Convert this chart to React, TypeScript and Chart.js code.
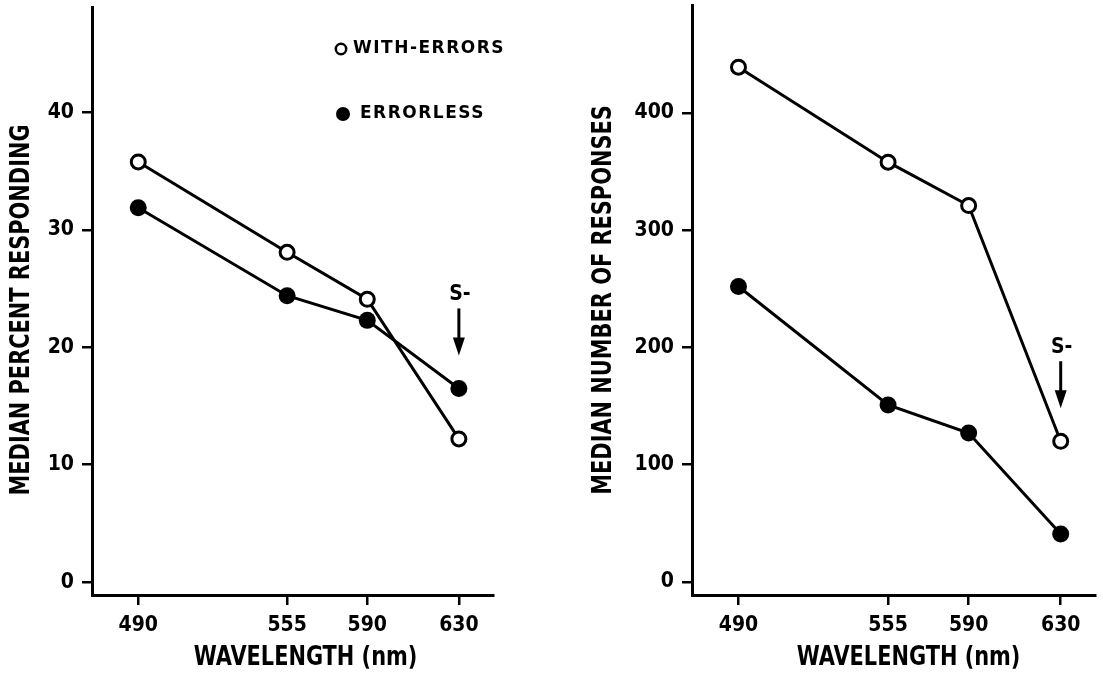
import React, { useEffect, useRef } from 'react';
import { Chart, registerables } from 'chart.js';

Chart.register(...registerables);

// ---------------- data ----------------
const WAVELENGTHS = [490, 555, 590, 630];
const X_TICKS = [490, 555, 590, 630];

const PCT_WITH_ERRORS = [35.8, 28.1, 24.1, 12.2];
const PCT_ERRORLESS = [31.9, 24.4, 22.3, 16.5];
const PCT_TICKS = [0, 10, 20, 30, 40];

const RESP_WITH_ERRORS = [439, 358, 321, 120];
const RESP_ERRORLESS = [252, 151, 127, 41];
const RESP_TICKS = [0, 100, 200, 300, 400];

const SERIES_NAMES = ['WITH-ERRORS', 'ERRORLESS'];
const Y_TITLES = ['MEDIAN PERCENT RESPONDING', 'MEDIAN NUMBER OF RESPONSES'];
const X_TITLE = 'WAVELENGTH (nm)';
const S_MINUS = 'S-';

// ---------------- styles ----------------
const COND = "'DejaVu Sans Condensed', 'DejaVu Sans', sans-serif";
const BOLD = "'DejaVu Sans', sans-serif";

function condensedText(ctx: any, text: string, x: number, y: number, sx: number) {
  ctx.save();
  ctx.translate(x, y);
  ctx.scale(sx, 1);
  ctx.fillText(text, 0, 0);
  ctx.restore();
}

const annotPlugin = {
  id: 'annot',
  afterDraw(chart: any, _args: any, opts: any) {
    const { ctx, chartArea, scales } = chart;
    const xs = scales.x;
    const ys = scales.y;
    ctx.save();
    ctx.fillStyle = '#000';
    ctx.strokeStyle = '#000';

    // y title
    ctx.save();
    ctx.font = `bold 27px ${COND}`;
    ctx.textAlign = 'center';
    ctx.textBaseline = 'middle';
    ctx.translate(opts.yTitleX, opts.yTitleY);
    ctx.rotate(-Math.PI / 2);
    condensedText(ctx, opts.yTitle, 0, 0, 0.86);
    ctx.restore();

    // x title
    ctx.font = `bold 27px ${COND}`;
    ctx.textAlign = 'center';
    ctx.textBaseline = 'alphabetic';
    const xMid = (xs.getPixelForValue(X_TICKS[0]) + xs.getPixelForValue(X_TICKS[X_TICKS.length - 1])) / 2;
    condensedText(ctx, X_TITLE, xMid + opts.xTitleShift, 665, 0.86);

    // S- arrow above last wavelength
    const last = WAVELENGTHS.length - 1;
    const ax = xs.getPixelForValue(WAVELENGTHS[last]);
    const topY = Math.min(ys.getPixelForValue(opts.a[last]), ys.getPixelForValue(opts.b[last]));
    const tip = topY - 33;
    ctx.lineWidth = 3;
    ctx.beginPath();
    ctx.moveTo(ax, tip - 47);
    ctx.lineTo(ax, tip - 14);
    ctx.stroke();
    ctx.beginPath();
    ctx.moveTo(ax - 6, tip - 18);
    ctx.lineTo(ax + 6, tip - 18);
    ctx.lineTo(ax, tip);
    ctx.closePath();
    ctx.fill();
    ctx.font = `bold 21px ${COND}`;
    ctx.textAlign = 'center';
    ctx.textBaseline = 'alphabetic';
    ctx.fillText(S_MINUS, ax + 1, tip - 55);

    // legend
    if (opts.legend) {
      const lx = chartArea.left;
      ctx.lineWidth = 2.5;
      ctx.fillStyle = '#fff';
      ctx.beginPath();
      ctx.arc(lx + 249, 49, 5.2, 0, Math.PI * 2);
      ctx.fill();
      ctx.stroke();
      ctx.fillStyle = '#000';
      ctx.beginPath();
      ctx.arc(lx + 251, 114, 7, 0, Math.PI * 2);
      ctx.fill();
      ctx.font = `bold 17px ${BOLD}`;
      (ctx as any).letterSpacing = '1.5px';
      ctx.textAlign = 'left';
      ctx.textBaseline = 'middle';
      ctx.fillText(SERIES_NAMES[0], lx + 261, 49);
      ctx.fillText(SERIES_NAMES[1], lx + 268, 114);
      (ctx as any).letterSpacing = '0px';
    }
    ctx.restore();
  },
};

function makeConfig(p: any) {
  return {
    type: 'line',
    data: {
      datasets: [
        {
          label: SERIES_NAMES[1],
          data: WAVELENGTHS.map((x, i) => ({ x, y: p.b[i] })),
          borderColor: '#000',
          borderWidth: 3,
          pointRadius: 8.5,
          pointBackgroundColor: '#000',
          pointBorderColor: '#000',
          pointBorderWidth: 0,
          tension: 0,
        },
        {
          label: SERIES_NAMES[0],
          data: WAVELENGTHS.map((x, i) => ({ x, y: p.a[i] })),
          borderColor: '#000',
          borderWidth: 3,
          pointRadius: 7,
          pointBackgroundColor: '#fff',
          pointBorderColor: '#000',
          pointBorderWidth: 3,
          tension: 0,
        },
      ],
    },
    options: {
      responsive: false,
      animation: false,
      devicePixelRatio: 1,
      layout: { autoPadding: false, padding: { left: 0, right: p.padRight, top: p.padTop, bottom: 0 } },
      plugins: {
        legend: { display: false },
        tooltip: { enabled: false },
        annot: {
          yTitle: p.yTitle,
          yTitleX: p.yTitleX,
          yTitleY: p.yTitleY,
          xTitleShift: p.xTitleShift,
          legend: p.legend,
          a: p.a,
          b: p.b,
        },
      },
      scales: {
        x: {
          type: 'linear',
          min: 469.8,
          max: 644.9,
          afterFit: (s: any) => {
            s.height = 83;
            s.paddingLeft = 0;
            s.paddingRight = 0;
            s.paddingTop = 0;
            s.paddingBottom = 0;
          },
          afterBuildTicks: (s: any) => { s.ticks = X_TICKS.map((v) => ({ value: v })); },
          border: { display: true, width: 3, color: '#000' },
          grid: { drawOnChartArea: false, drawTicks: true, tickLength: 10, lineWidth: 2.5, color: '#000' },
          ticks: { color: '#000', padding: 8, maxRotation: 0, font: { family: COND, size: 21, weight: 'bold' } },
        },
        y: {
          type: 'linear',
          min: p.yMin,
          max: p.yMax,
          afterFit: (s: any) => {
            s.width = p.yAxisWidth;
            s.paddingTop = 0;
            s.paddingBottom = 0;
            s.paddingLeft = 0;
            s.paddingRight = 0;
          },
          afterBuildTicks: (s: any) => { s.ticks = p.yTicks.map((v: number) => ({ value: v })); },
          border: { display: true, width: 3, color: '#000' },
          grid: { drawOnChartArea: false, drawTicks: true, tickLength: 10, lineWidth: 2.5, color: '#000' },
          ticks: { color: '#000', padding: 8, font: { family: COND, size: 21, weight: 'bold' } },
        },
      },
    },
    plugins: [annotPlugin],
  };
}

function Panel(props: { left: number; width: number; cfg: any }) {
  const ref = useRef<HTMLCanvasElement>(null);
  useEffect(() => {
    if (!ref.current) return;
    const chart = new Chart(ref.current, props.cfg);
    return () => chart.destroy();
  }, []);
  return (
    <canvas
      ref={ref}
      width={props.width}
      height={678}
      style={{ position: 'absolute', left: props.left, top: 0, width: props.width, height: 678, display: 'block' }}
    />
  );
}

export default function App() {
  const leftCfg = makeConfig({
    a: PCT_WITH_ERRORS,
    b: PCT_ERRORLESS,
    yTicks: PCT_TICKS,
    yMin: -1.1,
    yMax: 49.0,
    yTitle: Y_TITLES[0],
    yTitleX: 22,
    yTitleY: 310,
    xTitleShift: 7,
    legend: true,
    yAxisWidth: 92,
    padRight: 57,
    padTop: 7,
  });
  const rightCfg = makeConfig({
    a: RESP_WITH_ERRORS,
    b: RESP_ERRORLESS,
    yTicks: RESP_TICKS,
    yMin: -11.1,
    yMax: 492,
    yTitle: Y_TITLES[1],
    yTitleX: 54,
    yTitleY: 300,
    xTitleShift: 9,
    legend: false,
    yAxisWidth: 142,
    padRight: 8,
    padTop: 5,
  });
  return (
    <div style={{ position: 'fixed', left: 0, top: 0, width: 1103, height: 678, background: '#fff', overflow: 'hidden' }}>
      <Panel left={0} width={550} cfg={leftCfg} />
      <Panel left={550} width={553} cfg={rightCfg} />
    </div>
  );
}
